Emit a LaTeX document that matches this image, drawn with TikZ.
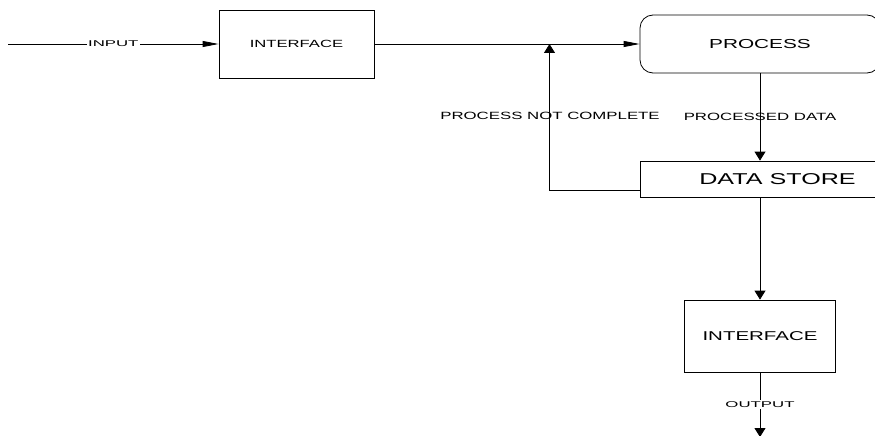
\documentclass[tikz,border=0pt]{standalone}
\usepackage{fontspec}
\setmainfont{Liberation Sans}
\newfontfamily\dfont{Liberation Sans}[FakeStretch=1.6]
\newfontfamily\dfontw{Liberation Sans}[FakeStretch=2.0]
\usetikzlibrary{arrows.meta}
\begin{document}
\begin{tikzpicture}[x=1pt,y=-1pt, line width=0.8pt,
  box/.style={draw, inner sep=0pt},
  harrow/.style={-{Triangle[length=16pt,width=6pt]}},
  varrow/.style={-{Triangle[length=9pt,width=11pt]}},
  lbl/.style={inner sep=1pt, font=\dfont\fontsize{10.5}{12}\selectfont},
  slbl/.style={inner sep=1.5pt, fill=white, font=\dfontw\fontsize{8.4}{10}\selectfont}]
\useasboundingbox (0,0) rectangle (875,436);
\clip (0,0) rectangle (875,436);

\node[box, minimum width=155pt, minimum height=68pt, font=\dfont\fontsize{10.4}{12}\selectfont] (if1) at (296.5,44) {INTERFACE};
\node[box, rounded corners=13pt, minimum width=240pt, minimum height=58pt, font=\dfont\fontsize{13}{15}\selectfont] (proc) at (760,44) {PROCESS};
\node[box, minimum width=275pt, minimum height=36pt, font=\dfont\fontsize{15.7}{18}\selectfont] (ds) at (777.5,179) {DATA STORE};
\node[box, minimum width=151pt, minimum height=72pt, font=\dfont\fontsize{12.8}{15}\selectfont] (if2) at (760,336) {INTERFACE};

\coordinate (in) at (8,44);
\coordinate (j) at (549.5,44);
\coordinate (out) at (760,437);

\draw[harrow] (in) -- node[slbl] (inl) {INPUT} (if1.west);
\draw[harrow] (if1.east) -- (proc.west);
\draw[varrow] (proc.south) -- (proc.south |- ds.north);
\node[lbl] (pd) at (760,117) {PROCESSED DATA};
\draw[varrow] ([yshift=-11pt]ds.west) -| (j);
\node[lbl] (pnc) at (550,116) {PROCESS NOT COMPLETE};
\draw[varrow] (ds.south -| if2.north) -- (if2.north);
\draw[varrow] (if2.south) -- node[slbl] (outl) {OUTPUT} (out);
\end{tikzpicture}
\end{document}
